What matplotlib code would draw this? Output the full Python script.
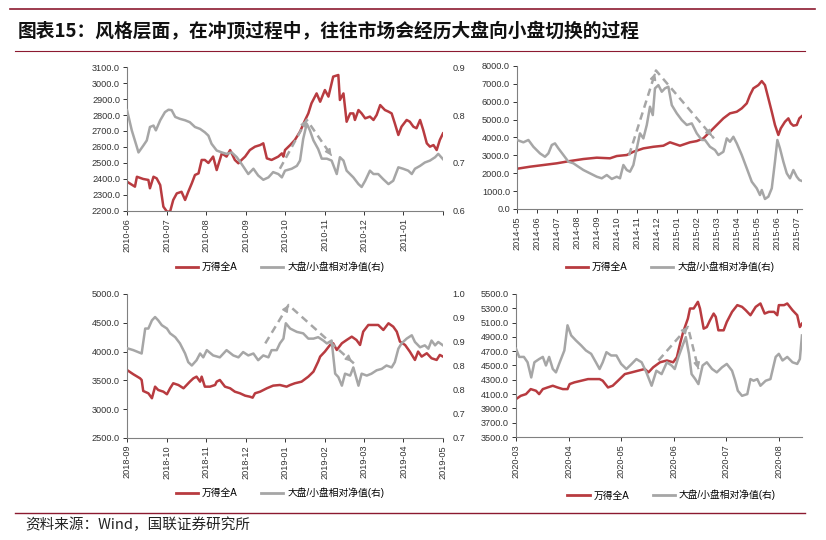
import numpy as np
import matplotlib.pyplot as plt
from matplotlib.lines import Line2D

plt.rcParams['font.family'] = ['Liberation Sans', 'Noto Sans CJK SC']

RED = '#B83B40'
GRAY = '#A6A6A6'
DARK = '#8C1A30'

TITLE = '图表15：风格层面，在冲顶过程中，往往市场会经历大盘向小盘切换的过程'
SOURCE = '资料来源：Wind，国联证券研究所'
LEG_RED = '万得全A'
LEG_GRAY = '大盘/小盘相对净值(右)'

# ---------------- 2010-06 ~ 2011-01 ----------------
tl_months = ['2010-06', '2010-07', '2010-08', '2010-09', '2010-10', '2010-11', '2010-12', '2011-01']
tl_red_m = [0, 0.20, 0.25, 0.41, 0.54, 0.58, 0.67, 0.75, 0.84, 0.92, 1.01, 1.09, 1.17, 1.26, 1.38, 1.47,
            1.55, 1.64, 1.72, 1.81, 1.89, 1.97, 2.06, 2.18, 2.27, 2.40, 2.52, 2.61, 2.73, 2.82, 2.90, 2.99,
            3.11, 3.24, 3.37, 3.45, 3.54, 3.66, 3.83, 3.92, 3.96, 4.00, 4.13, 4.25, 4.38, 4.51, 4.59, 4.67,
            4.80, 4.89, 5.01, 5.10, 5.22, 5.35, 5.39, 5.48, 5.56, 5.65, 5.73, 5.77, 5.86, 5.94, 6.03, 6.15,
            6.24, 6.32, 6.41, 6.53, 6.62, 6.70, 6.78, 6.87, 6.95, 7.08, 7.16, 7.25, 7.33, 7.42, 7.50, 7.59,
            7.67, 7.76, 7.84, 7.92, 8.0]
tl_red = [2383, 2352, 2414, 2400, 2394, 2342, 2414, 2404, 2362, 2227, 2196, 2196, 2269, 2310, 2320, 2269,
          2320, 2373, 2425, 2435, 2519, 2519, 2500, 2540, 2456, 2560, 2540, 2581, 2519, 2498, 2519, 2540,
          2581, 2602, 2612, 2623, 2529, 2519, 2540, 2560, 2540, 2581, 2612, 2644, 2696, 2769, 2810, 2873,
          2935, 2883, 2956, 2915, 3040, 3050, 2894, 2935, 2758, 2810, 2810, 2769, 2831, 2810, 2779, 2790,
          2769, 2800, 2862, 2831, 2821, 2810, 2748, 2675, 2727, 2769, 2758, 2727, 2717, 2769, 2706, 2623,
          2602, 2612, 2581, 2644, 2685]
tl_gray_m = [0, 0.12, 0.25, 0.29, 0.41, 0.50, 0.58, 0.67, 0.73, 0.84, 0.96, 1.05, 1.13, 1.22, 1.34, 1.47,
             1.59, 1.72, 1.85, 1.97, 2.06, 2.14, 2.27, 2.40, 2.52, 2.65, 2.78, 2.90, 3.07, 3.20, 3.32, 3.45,
             3.58, 3.70, 3.83, 3.92, 4.00, 4.17, 4.30, 4.38, 4.46, 4.55, 4.63, 4.72, 4.84, 4.93, 5.06, 5.18,
             5.31, 5.39, 5.48, 5.56, 5.73, 5.86, 5.94, 6.03, 6.15, 6.24, 6.36, 6.49, 6.62, 6.74, 6.87, 6.99,
             7.12, 7.21, 7.29, 7.42, 7.54, 7.67, 7.80, 7.88, 8.0]
tl_gray = [0.810, 0.768, 0.733, 0.722, 0.736, 0.747, 0.775, 0.778, 0.768, 0.789, 0.806, 0.811, 0.810, 0.796,
           0.792, 0.789, 0.785, 0.775, 0.771, 0.764, 0.757, 0.740, 0.726, 0.722, 0.719, 0.722, 0.712, 0.698,
           0.677, 0.688, 0.674, 0.665, 0.670, 0.681, 0.677, 0.670, 0.684, 0.688, 0.694, 0.705, 0.750, 0.782,
           0.768, 0.747, 0.729, 0.709, 0.709, 0.705, 0.677, 0.712, 0.705, 0.684, 0.670, 0.656, 0.650, 0.663,
           0.684, 0.677, 0.677, 0.666, 0.656, 0.663, 0.691, 0.688, 0.684, 0.677, 0.688, 0.694, 0.701, 0.705,
           0.712, 0.719, 0.708]
tl_dash_m = [3.87, 4.55, 5.18]
tl_dash = [0.688, 0.790, 0.715]

# ---------------- 2014-05 ~ 2015-07 ----------------
tr_months = ['2014-05', '2014-06', '2014-07', '2014-08', '2014-09', '2014-10', '2014-11', '2014-12',
             '2015-01', '2015-02', '2015-03', '2015-04', '2015-05', '2015-06', '2015-07']
tr_red_m = [0, 0.65, 1.32, 1.99, 2.65, 3.32, 3.99, 4.65, 4.99, 5.49, 5.82, 6.32, 6.82, 7.32, 7.65, 8.15,
            8.65, 8.99, 9.32, 9.65, 9.99, 10.32, 10.65, 10.99, 11.24, 11.49, 11.65, 11.82, 12.07, 12.24,
            12.40, 12.57, 12.74, 12.90, 13.07, 13.19, 13.40, 13.57, 13.69, 13.82, 13.99, 14.12, 14.25]
tr_red = [2250, 2365, 2460, 2555, 2683, 2795, 2870, 2835, 2963, 3020, 3200, 3390, 3480, 3540, 3730, 3540,
          3730, 3800, 3950, 4320, 4700, 5070, 5350, 5440, 5630, 5910, 6370, 6750, 6930, 7155, 6930, 6190,
          5440, 4700, 4140, 4510, 4880, 5070, 4790, 4660, 4700, 5070, 5200]
tr_gray_m = [0, 0.32, 0.57, 0.82, 1.15, 1.40, 1.57, 1.74, 1.90, 2.07, 2.32, 2.57, 2.82, 3.07, 3.32, 3.65,
             3.99, 4.24, 4.49, 4.74, 4.99, 5.15, 5.32, 5.49, 5.65, 5.82, 5.99, 6.15, 6.32, 6.49, 6.65, 6.79,
             6.90, 7.07, 7.24, 7.40, 7.57, 7.74, 7.99, 8.24, 8.49, 8.74, 8.99, 9.24, 9.40, 9.65, 9.90, 10.07,
             10.32, 10.49, 10.65, 10.82, 10.99, 11.24, 11.49, 11.74, 11.99, 12.15, 12.24, 12.40, 12.57,
             12.74, 12.90, 13.02, 13.15, 13.32, 13.49, 13.65, 13.82, 13.99, 14.12, 14.25]
tr_gray = [3860, 3730, 3860, 3480, 3110, 2920, 3110, 3580, 3670, 3390, 3020, 2645, 2555, 2365, 2180, 1995,
           1805, 1715, 1900, 1680, 1805, 1715, 2460, 2180, 2085, 2460, 3390, 4230, 3950, 4700, 5720, 5255,
           6750, 6930, 6560, 6750, 6840, 5810, 5350, 4975, 4700, 4790, 4230, 3860, 3860, 3480, 3300, 3020,
           3200, 3950, 3760, 4040, 3670, 3020, 2275, 1525, 1155, 780, 1060, 560, 690,
           1155, 2645, 3860, 3390, 2645, 1995, 1715, 2180, 1805, 1620, 1565]
tr_dash_m = [5.6, 6.95, 9.85]
tr_dash = [3000, 7750, 3950]

# ---------------- 2018-09 ~ 2019-05 ----------------
bl_months = ['2018-09', '2018-10', '2018-11', '2018-12', '2019-01', '2019-02', '2019-03', '2019-04', '2019-05']
bl_red_m = [0, 0.16, 0.33, 0.37, 0.41, 0.54, 0.63, 0.71, 0.79, 0.92, 1.01, 1.09, 1.17, 1.30, 1.43, 1.51,
            1.59, 1.68, 1.76, 1.85, 1.89, 1.97, 2.10, 2.23, 2.27, 2.35, 2.48, 2.61, 2.73, 2.86, 2.99, 3.11,
            3.18, 3.24, 3.37, 3.54, 3.70, 3.87, 4.04, 4.13, 4.25, 4.42, 4.59, 4.72, 4.84, 4.89, 5.01, 5.14,
            5.22, 5.31, 5.44, 5.56, 5.69, 5.81, 5.90, 5.98, 6.11, 6.24, 6.36, 6.49, 6.62, 6.74, 6.83, 6.91,
            7.04, 7.16, 7.29, 7.37, 7.46, 7.59, 7.71, 7.84, 7.92, 8.0]
bl_red = [3680, 3606, 3536, 3507, 3316, 3276, 3190, 3391, 3333, 3304, 3259, 3363, 3450, 3420, 3363, 3420,
          3478, 3536, 3565, 3478, 3565, 3391, 3391, 3420, 3478, 3507, 3391, 3363, 3304, 3276, 3235, 3217,
          3200, 3276, 3304, 3363, 3409, 3420, 3391, 3420, 3450, 3478, 3565, 3652, 3826, 3913, 4000, 4115,
          4144, 4028, 4144, 4201, 4259, 4201, 4115, 4346, 4462, 4462, 4462, 4375, 4491, 4433, 4346, 4173,
          4115, 4000, 3855, 4000, 3913, 3971, 3884, 3855, 3942, 3913]
bl_gray_m = [0, 0.16, 0.37, 0.46, 0.54, 0.63, 0.71, 0.79, 0.88, 1.01, 1.09, 1.22, 1.34, 1.47, 1.55, 1.64,
             1.76, 1.85, 1.93, 2.02, 2.18, 2.35, 2.52, 2.69, 2.82, 2.94, 3.07, 3.20, 3.32, 3.45, 3.58, 3.66,
             3.79, 3.87, 3.96, 4.02, 4.13, 4.30, 4.46, 4.59, 4.72, 4.84, 4.97, 5.06, 5.18, 5.27, 5.35, 5.44,
             5.52, 5.65, 5.73, 5.86, 5.94, 6.07, 6.19, 6.32, 6.45, 6.57, 6.70, 6.78, 6.87, 6.95, 7.08, 7.21,
             7.29, 7.42, 7.54, 7.63, 7.71, 7.80, 7.88, 8.0]
bl_gray = [0.887, 0.883, 0.876, 0.928, 0.928, 0.945, 0.952, 0.945, 0.935, 0.928, 0.918, 0.910, 0.897, 0.876,
           0.858, 0.851, 0.862, 0.876, 0.868, 0.883, 0.872, 0.868, 0.883, 0.872, 0.868, 0.879, 0.872, 0.876,
           0.862, 0.872, 0.868, 0.883, 0.883, 0.897, 0.907, 0.939, 0.928, 0.921, 0.918, 0.907, 0.907, 0.910,
           0.903, 0.897, 0.903, 0.834, 0.827, 0.809, 0.834, 0.830, 0.847, 0.809, 0.834, 0.830, 0.834, 0.841,
           0.844, 0.851, 0.847, 0.858, 0.886, 0.897, 0.907, 0.914, 0.900, 0.889, 0.893, 0.886, 0.903, 0.893,
           0.900, 0.893]
bl_dash_m = [3.5, 4.09, 5.75]
bl_dash = [0.897, 0.977, 0.855]

# ---------------- 2020-03 ~ 2020-08 ----------------
br_months = ['2020-03', '2020-04', '2020-05', '2020-06', '2020-07', '2020-08']
br_red_m = [0, 0.09, 0.19, 0.28, 0.38, 0.44, 0.51, 0.60, 0.70, 0.79, 0.89, 0.98, 1.02, 1.11, 1.24, 1.37,
            1.49, 1.59, 1.65, 1.75, 1.84, 1.94, 2.07, 2.20, 2.32, 2.45, 2.52, 2.61, 2.74, 2.87, 2.99, 3.06,
            3.12, 3.18, 3.27, 3.31, 3.38, 3.46, 3.50, 3.57, 3.63, 3.69, 3.76, 3.80, 3.85, 3.95, 4.01, 4.11,
            4.21, 4.30, 4.37, 4.46, 4.56, 4.65, 4.73, 4.81, 4.91, 4.97, 5.00, 5.10, 5.16, 5.26, 5.35, 5.40, 5.44]
br_red = [4030, 4076, 4100, 4170, 4147, 4100, 4170, 4193, 4217, 4193, 4170, 4170, 4240, 4264, 4287, 4310,
          4310, 4310, 4287, 4193, 4217, 4287, 4380, 4404, 4427, 4451, 4404, 4475, 4545, 4570, 4545, 4615,
          4803, 4968, 5156, 5297, 5297, 5390, 5297, 5015, 5038, 5132, 5226, 5180, 4992, 4992, 5109, 5250,
          5344, 5320, 5273, 5203, 5320, 5367, 5226, 5250, 5250, 5203, 5344, 5344, 5367, 5273, 5203, 5038, 5085]
br_gray_m = [0, 0.06, 0.15, 0.22, 0.29, 0.35, 0.44, 0.51, 0.57, 0.63, 0.70, 0.76, 0.82, 0.92, 0.98, 1.05,
             1.14, 1.24, 1.33, 1.43, 1.52, 1.59, 1.65, 1.72, 1.81, 1.91, 2.00, 2.10, 2.20, 2.29, 2.39, 2.48,
             2.58, 2.67, 2.77, 2.87, 2.96, 3.02, 3.09, 3.17, 3.23, 3.29, 3.34, 3.41, 3.47, 3.55, 3.63, 3.73,
             3.82, 3.92, 4.01, 4.11, 4.17, 4.22, 4.30, 4.40, 4.46, 4.52, 4.59, 4.65, 4.75, 4.84, 4.94, 5.00,
             5.07, 5.16, 5.26, 5.35, 5.40, 5.44]
br_gray = [4735, 4620, 4620, 4545, 4333, 4545, 4590, 4620, 4500, 4620, 4451, 4404, 4522, 4710, 5062, 4920,
           4850, 4780, 4710, 4663, 4545, 4451, 4545, 4686, 4640, 4640, 4522, 4451, 4522, 4590, 4545, 4404,
           4217, 4427, 4380, 4545, 4500, 4451, 4620, 4780, 4897, 4663, 4380, 4310, 4240, 4500, 4545, 4451,
           4404, 4475, 4522, 4427, 4287, 4147, 4076, 4100, 4310, 4287, 4310, 4217, 4287, 4310, 4620, 4663,
           4570, 4620, 4545, 4522, 4590, 4920]
br_dash_m = [2.71, 3.27, 3.47]
br_dash = [4570, 5040, 4450]


def panel(fig, rect, months, xmax, red_m, red_v, gray_m, gray_v, dash_m, dash_v,
          yticks, y2lim, y2ticks, y2labels, leg_xy):
    ax = fig.add_axes(rect)
    ax2 = ax.twinx()
    ax.plot(red_m, red_v, color=RED, lw=1.8, solid_joinstyle='round')
    ax2.plot(gray_m, gray_v, color=GRAY, lw=1.8, solid_joinstyle='round')
    ax2.plot(dash_m, dash_v, color=GRAY, lw=1.8, dashes=(3, 2))
    for i in (1, 2):
        dx = dash_m[i] - dash_m[i - 1]
        dy = dash_v[i] - dash_v[i - 1]
        ax2.annotate('', xy=(dash_m[i], dash_v[i]),
                     xytext=(dash_m[i] - dx * 0.08, dash_v[i] - dy * 0.08),
                     arrowprops=dict(arrowstyle='-|>', color=GRAY, lw=1.2, mutation_scale=9))

    ax.set_xlim(0, xmax)
    ax.set_ylim(yticks[0], yticks[-1])
    ax.set_yticks(yticks)
    ax.set_yticklabels(['%.1f' % v for v in yticks])
    ticks = np.arange(int(np.floor(xmax)) + 1)
    ax.set_xticks(ticks)
    ax.set_xticklabels((months + [''] * len(ticks))[:len(ticks)], rotation=90)
    ax.tick_params(axis='both', labelsize=6.6, colors='#333333', length=3, width=0.7, pad=2)
    for s in ('top', 'right'):
        ax.spines[s].set_visible(False)
    for s in ('left', 'bottom'):
        ax.spines[s].set_color('#808080')
        ax.spines[s].set_linewidth(0.8)

    for s in ax2.spines.values():
        s.set_visible(False)
    if y2ticks is None:
        ax2.set_ylim(yticks[0], yticks[-1])
        ax2.set_yticks([])
    else:
        ax2.set_ylim(*y2lim)
        ax2.set_yticks(y2ticks)
        ax2.set_yticklabels(y2labels)
        ax2.tick_params(axis='y', labelsize=6.6, colors='#333333', length=0, pad=7)

    handles = [Line2D([], [], color=RED, lw=2), Line2D([], [], color=GRAY, lw=2)]
    fig.legend(handles, [LEG_RED, LEG_GRAY], loc='center', bbox_to_anchor=leg_xy, ncol=2,
               frameon=False, fontsize=7, handlelength=2.3, handletextpad=0.4, columnspacing=2.4)
    return ax


fig = plt.figure(figsize=(8.26, 5.40), dpi=100)

panel(fig, [0.1538, 0.6093, 0.3825, 0.2666], tl_months, 8.0, tl_red_m, tl_red, tl_gray_m, tl_gray,
      tl_dash_m, tl_dash, np.arange(2200, 3101, 100), (0.6, 0.9), [0.6, 0.7, 0.8, 0.9],
      ['0.6', '0.7', '0.8', '0.9'], (0.339, 0.5056))
panel(fig, [0.6259, 0.6130, 0.3450, 0.2648], tr_months, 14.25, tr_red_m, tr_red, tr_gray_m, tr_gray,
      tr_dash_m, tr_dash, np.arange(0, 8001, 1000), None, None, None, (0.811, 0.5056))
panel(fig, [0.1538, 0.1889, 0.3825, 0.2667], bl_months, 8.0, bl_red_m, bl_red, bl_gray_m, bl_gray,
      bl_dash_m, bl_dash, np.arange(2500, 5001, 500), (0.7, 1.0), np.arange(0.7, 1.001, 0.05),
      ['0.7', '0.7', '0.8', '0.8', '0.9', '0.9', '1.0'], (0.339, 0.087))
panel(fig, [0.6247, 0.1907, 0.3462, 0.2649], br_months, 5.44, br_red_m, br_red, br_gray_m, br_gray,
      br_dash_m, br_dash, np.arange(3500, 5501, 200), None, None, None, (0.813, 0.083))

# header / footer rules and texts
for y, x0, x1, lw in [(1 - 9 / 540, 10 / 826, 815 / 826, 1.2), (1 - 51 / 540, 15 / 826, 805 / 826, 0.8),
                      (1 - 513 / 540, 15 / 826, 805 / 826, 1.0)]:
    fig.add_artist(Line2D([x0, x1], [y, y], color=DARK, lw=lw, transform=fig.transFigure))

fig.text(18 / 826, 1 - 32 / 540, TITLE, fontsize=13.5, fontweight='bold', va='center', ha='left',
         family=['Noto Sans CJK SC', 'DejaVu Sans'], color='#111111')
fig.text(25 / 826, 1 - 525 / 540, SOURCE, fontsize=10.5, va='center', ha='left',
         family=['Noto Sans CJK SC', 'DejaVu Sans'], color='#222222')

fig.savefig('out.png', dpi=100)
